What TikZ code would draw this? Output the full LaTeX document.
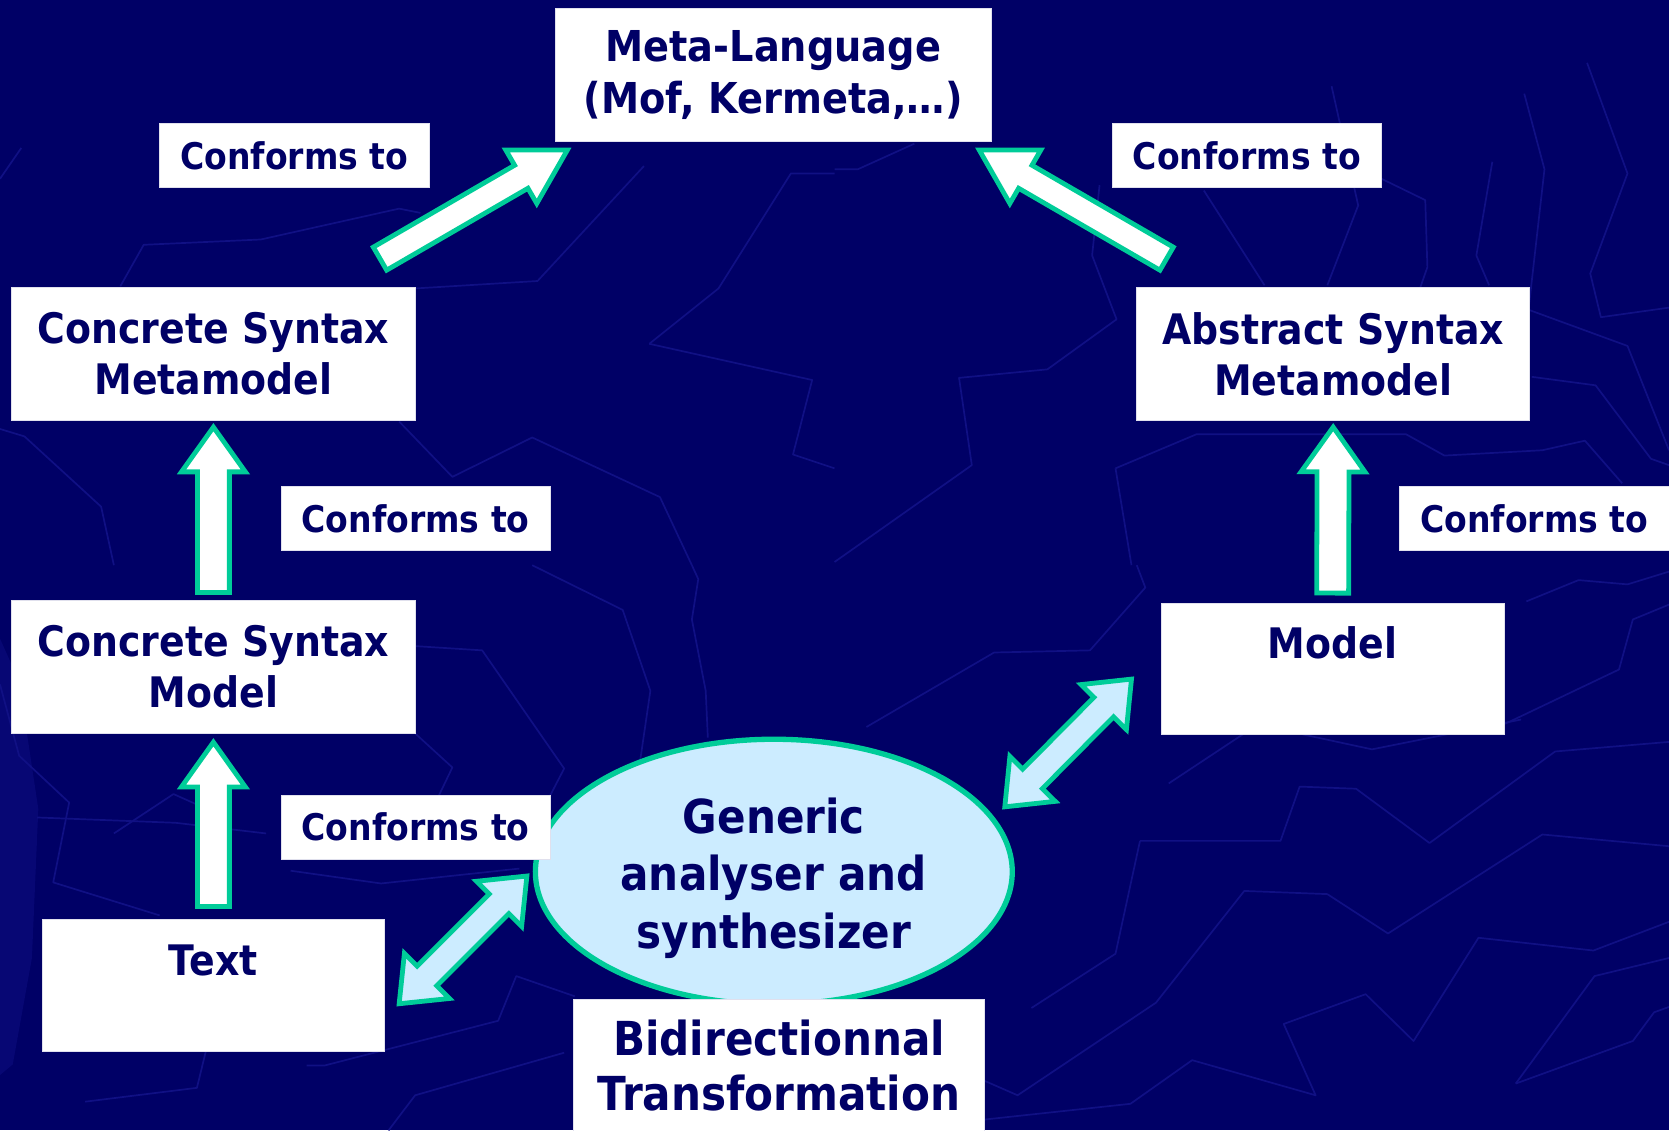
\documentclass[tikz,border=0pt]{standalone}
\usepackage{fontspec}
\newfontfamily\lblfont{DejaVu Sans}[FakeStretch=0.9]
\usetikzlibrary{calc,shapes.geometric}

\definecolor{navy}{RGB}{0,0,102}
\definecolor{bgline}{RGB}{16,16,132}
\definecolor{mint}{RGB}{0,204,153}
\definecolor{paleblue}{RGB}{204,236,255}

% straight block arrow from #2 (tail) to #3 (tip)
% #4 half shaft width, #5 half head width, #6 head length
\newcommand\singlearrow[6]{%
  \coordinate (ba-h) at ($(#3)!#6!(#2)$);
  \draw[#1] ($(#2)!#4!90:(#3)$) -- ($(ba-h)!#4!90:(#3)$) -- ($(ba-h)!#5!90:(#3)$)
    -- (#3) -- ($(ba-h)!#5!-90:(#3)$) -- ($(ba-h)!#4!-90:(#3)$)
    -- ($(#2)!#4!-90:(#3)$) -- cycle;}
% block arrow with a head at both ends
\newcommand\doublearrow[6]{%
  \coordinate (ba-h) at ($(#3)!#6!(#2)$);
  \coordinate (ba-g) at ($(#2)!#6!(#3)$);
  \draw[#1] ($(ba-g)!#4!90:(#3)$) -- ($(ba-h)!#4!90:(#3)$) -- ($(ba-h)!#5!90:(#3)$)
    -- (#3) -- ($(ba-h)!#5!-90:(#3)$) -- ($(ba-h)!#4!-90:(#3)$)
    -- ($(ba-g)!#4!-90:(#3)$) -- ($(ba-g)!#5!-90:(#3)$) -- (#2)
    -- ($(ba-g)!#5!90:(#3)$) -- cycle;}

\tikzset{
  box/.style={fill=white, draw=white!88!navy, line width=0.6pt, text=navy, align=center,
    inner sep=0pt, font={\lblfont\bfseries\fontsize{39.5}{48}\selectfont}},
  conf/.style={box, minimum width=253pt, minimum height=60pt,
    font={\lblfont\bfseries\fontsize{34.5}{40}\selectfont}},
  uparrow/.style={fill=white, draw=mint, line width=4.5pt, miter limit=10},
  bidiarrow/.style={fill=paleblue, draw=mint, line width=4.5pt, miter limit=10},
  bgl/.style={draw=bgline, line width=1.6pt, line join=round}
}

\begin{document}
\begin{tikzpicture}[x=1pt, y=-1pt]
  % backdrop
  \fill[navy] (0,0) rectangle (1568,1062);
  \useasboundingbox (0,0) rectangle (1568,1062);
  \fill[bgline!45!navy] (0,600) -- (18,640) -- (36,760) -- (30,900) -- (12,1000) -- (0,1010) -- cycle;

  % faint zigzag texture
  \begin{scope}[bgl]
    \draw (1071,790)--(1203,790)--(1221,739)--(1274,741)--(1343,792)--(1461,706)--(1568,697);
    \draw (1071,790)--(1048,896)--(969,947);
    \draw (924,1015)--(956,1029)--(1086,942)--(1169,837)--(1247,840)--(1304,877)--(1449,784)--(1568,795);
    \draw (923,1052)--(1062,1037)--(1120,996)--(1236,1029)--(1206,962)--(1283,934)--(1328,978)--(1389,881)--(1497,893)--(1568,866);
    \draw (1424,1018)--(1534,978)--(1554,951)--(1568,946);
    \draw (1424,1018)--(1498,917)--(1568,900);
    \draw (814,683)--(934,613)--(1024,611)--(1076,552)--(1068,531);
    \draw (1434,565)--(1483,545)--(1529,549)--(1568,537);
    \draw (1414,680)--(1521,629)--(1534,582)--(1568,568);
    \draw (1224,690)--(1289,704)--(1429,676);
    \draw (1098,736)--(1169,689);
    \draw (1491,59)--(1529,163)--(1494,257)--(1504,298)--(1568,289);
    \draw (1432,88)--(1451,159)--(1436,291)--(1529,325)--(1568,423);
    \draw (1402,152)--(1387,240)--(1399,268);
    \draw (1251,81)--(1276,193)--(1247,268);
    \draw (1131,179)--(1188,268);
    \draw (1298,168)--(1339,188)--(1341,251)--(1334,271);
    \draw (1033,174)--(1026,240)--(1049,300)--(984,347)--(901,355)--(913,437)--(784,528);
    \draw (784,159)--(806,159)--(859,135);
    \draw (1439,354)--(1499,362)--(1551,431)--(1568,437);
    \draw (1048,440)--(1124,408)--(1321,408)--(1357,428)--(1449,423)--(1489,414)--(1524,454);
    \draw (1048,440)--(1063,531);
    \draw (0,168)--(20,139);
    \draw (113,269)--(135,230)--(245,225)--(375,196)--(395,200);
    \draw (390,271)--(505,264)--(605,156);
    \draw (610,323)--(675,271)--(743,163)--(784,163);
    \draw (610,323)--(763,357)--(745,427)--(784,440);
    \draw (0,403)--(23,410)--(95,476)--(107,531);
    \draw (375,396)--(425,448)--(500,411)--(620,467)--(650,531);
    \draw (500,531)--(585,573)--(611,649)--(598,738);
    \draw (650,531)--(656,544)--(650,582)--(663,649)--(665,693);
    \draw (390,607)--(453,611)--(530,722)--(515,751);
    \draw (390,689)--(425,721)--(412,748);
    \draw (0,643)--(18,710)--(65,754)--(50,829)--(150,860);
    \draw (35,768)--(165,773)--(250,783);
    \draw (107,783)--(163,746)--(210,767);
    \draw (273,818)--(358,830)--(488,816);
    \draw (288,1001)--(305,1001)--(468,959)--(485,917)--(540,936);
    \draw (80,1035)--(185,1022)--(195,981);
    \draw (530,989)--(390,1029)--(365,1062);
  \end{scope}

  % boxes
  \node[box, minimum width=409pt, minimum height=125pt, font={\lblfont\bfseries\fontsize{40}{49}\selectfont}]
    (meta) at (726.5,70.5) {Meta-Language\\(Mof, Kermeta,\dots)};
  \node[box, minimum width=379pt, minimum height=125pt] (csmm) at (200.5,332.5) {Concrete Syntax\\Metamodel};
  \node[box, minimum width=369pt, minimum height=125pt] (asmm) at (1252.5,332.5) {Abstract Syntax\\Metamodel};
  \node[box, minimum width=379pt, minimum height=125pt] (csm) at (200.5,626.5) {Concrete Syntax\\Model};
  \node[box, minimum width=322pt, minimum height=123pt] (model) at (1252,628) {Model\\\phantom{M}};
  \node[box, minimum width=321pt, minimum height=124pt] (text) at (200.5,926) {Text\\\phantom{T}};

  % ellipse
  \node[ellipse, fill=paleblue, draw=mint, line width=5pt, minimum width=448pt, minimum height=249pt,
    inner sep=0pt] (gas) at (727,819) {};
  \node[text=navy, align=center, font={\lblfont\bfseries\fontsize{44}{54}\selectfont}]
    (gaslbl) at (727,825) {Generic\\analyser and\\synthesizer};

  \node[box, minimum width=386pt, minimum height=124pt, font={\lblfont\bfseries\fontsize{44}{52}\selectfont}]
    (bidi) at (732,1001) {Bidirectionnal\\Transformation};

  % conformance labels
  \node[conf] (c1) at (276.5,146) {Conforms to};
  \node[conf] (c2) at (1171.5,146) {Conforms to};
  \node[conf] (c3) at (390.5,487) {Conforms to};
  \node[conf] (c4) at (1441.5,487) {Conforms to};
  \node[conf] (c5) at (390.5,777) {Conforms to};

  % arrow end points
  \coordinate (a1s) at ($(csm.north)+(0,-7)$);
  \coordinate (a1e) at ($(csmm.south)+(0,6)$);
  \coordinate (a2s) at ($(text.north)+(0,-12)$);
  \coordinate (a2e) at ($(csm.south)+(0,8)$);
  \coordinate (a3s) at ($(model.north)+(0,-9)$);
  \coordinate (a3e) at ($(asmm.south)+(0,6)$);
  \coordinate (a4s) at (357,243);
  \coordinate (a4e) at (533,141);
  \coordinate (a5s) at (1096,243);
  \coordinate (a5e) at (920,141);
  \coordinate (d1s) at (375,943);
  \coordinate (d1e) at (495,823);
  \coordinate (d2s) at (944,758);
  \coordinate (d2e) at (1063,638);

  \singlearrow{uparrow}{a1s}{a1e}{15pt}{30pt}{42pt}
  \singlearrow{uparrow}{a2s}{a2e}{15pt}{30pt}{42pt}
  \singlearrow{uparrow}{a3s}{a3e}{15pt}{30pt}{42pt}
  \singlearrow{uparrow}{a4s}{a4e}{12.5pt}{29pt}{50pt}
  \singlearrow{uparrow}{a5s}{a5e}{12.5pt}{29pt}{50pt}
  \doublearrow{bidiarrow}{d1s}{d1e}{13pt}{30pt}{37pt}
  \doublearrow{bidiarrow}{d2s}{d2e}{13pt}{30pt}{37pt}
\end{tikzpicture}
\end{document}
